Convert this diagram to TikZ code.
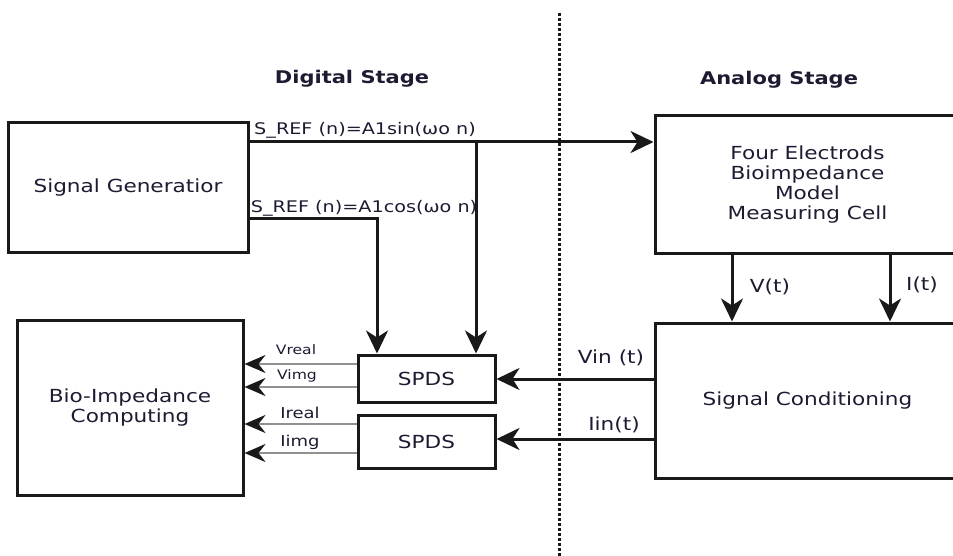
\documentclass[tikz,border=0pt]{standalone}
\usepackage{fontspec}
\setmainfont{DejaVu Sans}[FakeStretch=1.2]
\usetikzlibrary{arrows.meta}
\definecolor{txt}{RGB}{30,26,50}
\definecolor{edge}{RGB}{25,25,25}
\definecolor{grayline}{RGB}{145,145,145}
\begin{document}
\begin{tikzpicture}[x=1pt,y=-1pt,
  box/.style={draw=edge, line width=3pt, fill=white, rectangle, align=center, text=txt,
     font=\fontsize{18}{20}\selectfont, inner sep=0pt},
  conn/.style={draw=edge, line width=3pt, -{Stealth[length=23pt,width=22pt,inset=7pt]}},
  gconn/.style={draw=grayline, line width=2.4pt, -{Stealth[length=21pt,width=18pt,inset=7pt,color=edge]}},
  lbl/.style={text=txt, font=\fontsize{18}{20}\selectfont, inner sep=0pt},
  eqlbl/.style={text=txt, font=\fontsize{16}{18}\selectfont, inner sep=0pt},
  smlbl/.style={text=txt, font=\fontsize{13}{14}\selectfont, inner sep=0pt},
  title/.style={text=txt, font=\fontsize{17.5}{20}\selectfont\bfseries, inner sep=0pt}]
\useasboundingbox (0,0) rectangle (953,556);

% dotted separator
\coordinate (dtop) at (559,13);
\coordinate (dbot) at (559,556);
\draw[edge, line width=3pt, dash pattern=on 3pt off 2pt] (dtop) -- (dbot);

% titles
\node[title] (tdig) at (352,79) {Digital Stage};
\node[title] (tana) at (779,80) {Analog Stage};

% boxes
\node[box, minimum width=240pt, minimum height=129pt] (SG) at (128,187.5) {Signal Generatior};
\node[box, minimum width=226pt, minimum height=175pt] (BI) at (130,407.5) {Bio-Impedance\\Computing};
\node[box, minimum width=305pt, minimum height=137pt] (FE) at (807.5,184.5) {Four Electrods\\ Bioimpedance\\Model\\Measuring Cell};
\node[box, minimum width=305pt, minimum height=155pt] (SC) at (807.5,400.5) {Signal Conditioning};
\node[box, minimum width=137pt, minimum height=47pt] (S1) at (426.5,378.5) {SPDS};
\node[box, minimum width=137pt, minimum height=53pt] (S2) at (426.5,441.5) {SPDS};

% reference signals
\coordinate (ysin) at (0,142);
\coordinate (ycos) at (0,219);
\coordinate (bsin) at (476,142);
\coordinate (bcos) at (377,219);
\draw[conn] (SG.east |- ysin) -- (FE.west |- ysin);
\draw[conn] (bsin) -- (bsin |- S1.north);
\draw[conn] (SG.east |- ycos) -- (bcos) -- (bcos |- S1.north);
\node[eqlbl] (lsin) at (365,130) {S\_REF (n)=A1sin(ωo n)};
\node[eqlbl] (lcos) at (364,208) {S\_REF (n)=A1cos(ωo n)};

% measured signals
\coordinate (xv) at (732,0);
\coordinate (xi) at (890,0);
\draw[conn] (xv |- FE.south) -- (xv |- SC.north);
\draw[conn] (xi |- FE.south) -- (xi |- SC.north);
\node[lbl] (lv) at (770,287) {V(t)};
\node[lbl] (li) at (922,285) {I(t)};

\coordinate (yvin) at (0,379);
\coordinate (yiin) at (0,439);
\draw[conn] (SC.west |- yvin) -- (S1.east |- yvin);
\draw[conn] (SC.west |- yiin) -- (S2.east |- yiin);
\node[lbl] (lvin) at (611,358) {Vin (t)};
\node[lbl] (liin) at (614,425) {Iin(t)};

% SPDS outputs
\coordinate (y1) at (0,364);
\coordinate (y2) at (0,387);
\coordinate (y3) at (0,424);
\coordinate (y4) at (0,453);
\draw[gconn] (S1.west |- y1) -- (BI.east |- y1);
\draw[gconn] (S1.west |- y2) -- (BI.east |- y2);
\draw[gconn] (S2.west |- y3) -- (BI.east |- y3);
\draw[gconn] (S2.west |- y4) -- (BI.east |- y4);
\node[smlbl] (lvr) at (296,350) {Vreal};
\node[smlbl] (lvi) at (297,376) {Vimg};
\node[smlbl, font=\fontsize{15}{16}\selectfont] (lir) at (300,413) {Ireal};
\node[smlbl, font=\fontsize{15}{16}\selectfont] (lii) at (300,442) {Iimg};
\end{tikzpicture}
\end{document}
